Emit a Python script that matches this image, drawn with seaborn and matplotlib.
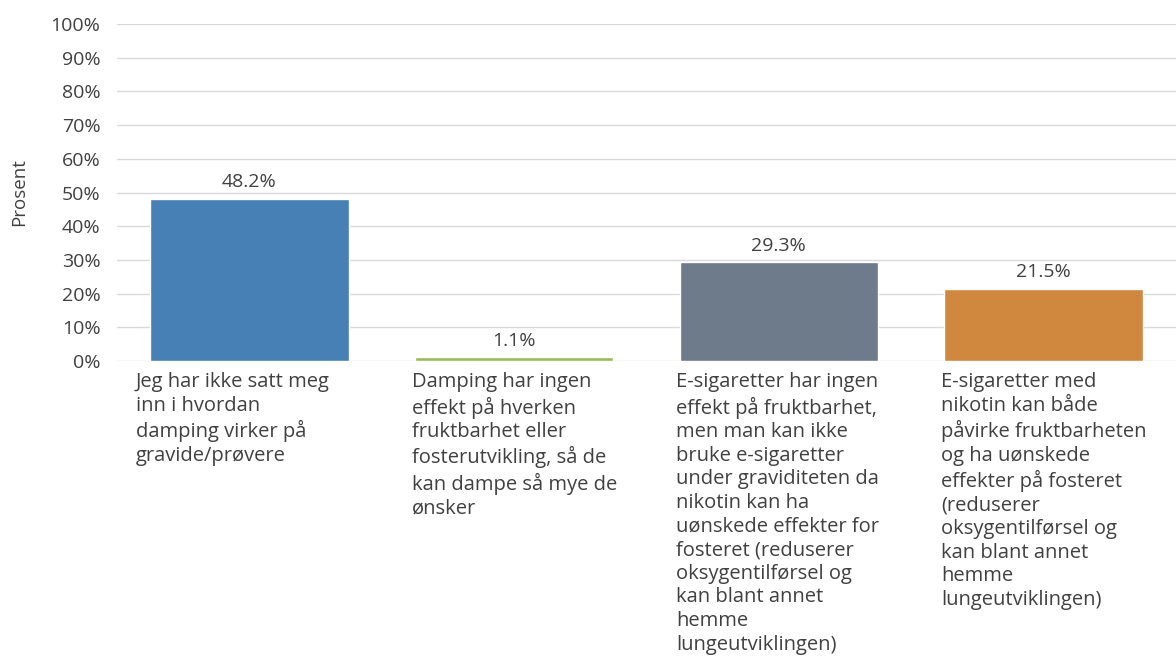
import matplotlib
matplotlib.use("Agg")
import matplotlib.pyplot as plt
import matplotlib.transforms as mtransforms
import seaborn as sns
import pandas as pd

categories = [
    "Jeg har ikke satt meg\ninn i hvordan\ndamping virker på\ngravide/prøvere",
    "Damping har ingen\neffekt på hverken\nfruktbarhet eller\nfosterutvikling, så de\nkan dampe så mye de\nønsker",
    "E-sigaretter har ingen\neffekt på fruktbarhet,\nmen man kan ikke\nbruke e-sigaretter\nunder graviditeten da\nnikotin kan ha\nuønskede effekter for\nfosteret (reduserer\noksygentilførsel og\nkan blant annet\nhemme\nlungeutviklingen)",
    "E-sigaretter med\nnikotin kan både\npåvirke fruktbarheten\nog ha uønskede\neffekter på fosteret\n(reduserer\noksygentilførsel og\nkan blant annet\nhemme\nlungeutviklingen)",
]
values = [48.2, 1.1, 29.3, 21.5]
y_ticks = [0, 10, 20, 30, 40, 50, 60, 70, 80, 90, 100]
y_tick_labels = [f"{t}%" for t in y_ticks]
colors = ["#4680b4", "#9bbb59", "#6e7b8b", "#d0873e"]

df = pd.DataFrame({"cat": categories, "value": values})

sns.set_theme(style="white")
plt.rcParams["font.family"] = ["Open Sans", "DejaVu Sans"]
text_color = "#404040"

fig = plt.figure(figsize=(11.76, 6.57), dpi=100)
ax = fig.add_axes([117 / 1176, 296 / 657, 1 - 117 / 1176, (361 - 24) / 657])

sns.barplot(data=df, x="cat", y="value", hue="cat", palette=colors,
            legend=False, width=0.75, saturation=1, ax=ax)

ax.set_ylim(0, 100)
ax.set_xlim(-0.5, 3.5)
ax.set_yticks(y_ticks)
ax.set_yticklabels(y_tick_labels, fontsize=14, color=text_color)
ax.tick_params(axis="y", length=0, pad=12)
ax.yaxis.grid(True, color="#d9d9d9", linewidth=1)
ax.set_axisbelow(True)
for s in ax.spines.values():
    s.set_visible(False)

ax.set_xticks([])
ax.set_xlabel("")
ax.set_ylabel("")
fig.text(19 / 1176, 1 - 192 / 657, "Prosent", rotation=90, ha="center",
         va="center", fontsize=13.5, color=text_color)

# value labels above each bar
for i, v in enumerate(values):
    ax.annotate(f"{v}%", (i, v), xytext=(0, 12), textcoords="offset points",
                ha="center", va="center", fontsize=14, color=text_color)

# category texts under each bar, left-aligned
trans = mtransforms.blended_transform_factory(ax.transData, ax.transAxes)
label_x = [-0.43, -0.387, -0.387, -0.387]
for i, (cat, dx) in enumerate(zip(categories, label_x)):
    ax.text(i + dx, -0.034, cat, transform=trans, ha="left", va="top",
            fontsize=14.5, color=text_color, linespacing=1.24)

fig.savefig("out.png", dpi=100, facecolor="white")
